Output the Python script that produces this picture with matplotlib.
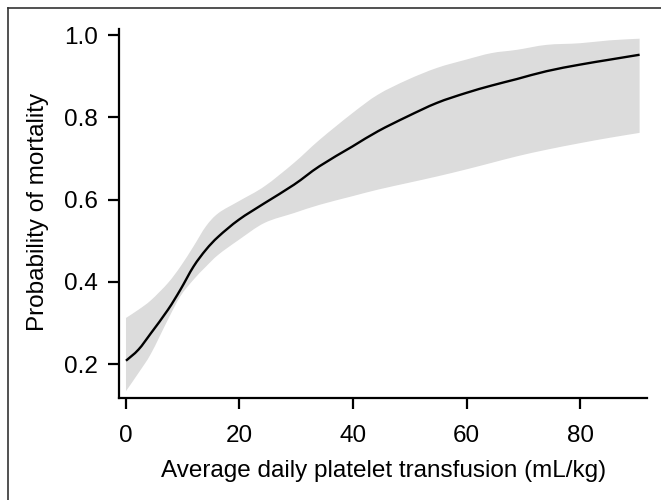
import matplotlib
matplotlib.use("Agg")
import matplotlib.pyplot as plt
from matplotlib.lines import Line2D
from matplotlib.path import Path
from matplotlib.patches import PathPatch

plt.rcParams['font.family'] = ['Liberation Sans', 'DejaVu Sans']

# Data
dose = [0, 2.2, 4.4, 7.4, 9.6, 11.9, 14.1, 16.3, 19.9, 24.4, 29.6, 34.1, 39.9,
        44.4, 49.6, 54.8, 59.9, 64.4, 68.9, 74.1, 80.0, 85.2, 90.5]
prob = [0.208, 0.235, 0.275, 0.332, 0.381, 0.437, 0.478, 0.510, 0.551, 0.591,
        0.636, 0.681, 0.729, 0.766, 0.802, 0.835, 0.859, 0.877, 0.893, 0.912,
        0.928, 0.940, 0.952]
upper = [0.312, 0.332, 0.355, 0.397, 0.437, 0.486, 0.535, 0.567, 0.596, 0.632,
         0.689, 0.745, 0.810, 0.855, 0.891, 0.920, 0.940, 0.956, 0.964, 0.976,
         0.980, 0.987, 0.991]
lower = [0.134, 0.178, 0.225, 0.308, 0.365, 0.405, 0.437, 0.466, 0.502, 0.543,
         0.567, 0.587, 0.608, 0.624, 0.640, 0.656, 0.673, 0.689, 0.705, 0.721,
         0.737, 0.750, 0.762]
xticks = [0, 20, 40, 60, 80]
yticks = [0.2, 0.4, 0.6, 0.8, 1.0]


def smooth_path(xs, ys, start=True):
    """Catmull-Rom curve through the points, as cubic Bezier path pieces."""
    pts = list(zip(xs, ys))
    n = len(pts)
    verts, codes = [pts[0]], [Path.MOVETO if start else Path.LINETO]
    for i in range(n - 1):
        p0 = pts[i - 1] if i > 0 else pts[i]
        p1, p2 = pts[i], pts[i + 1]
        p3 = pts[i + 2] if i + 2 < n else pts[i + 1]
        c1 = (p1[0] + (p2[0] - p0[0]) / 6, p1[1] + (p2[1] - p0[1]) / 6)
        c2 = (p2[0] - (p3[0] - p1[0]) / 6, p2[1] - (p3[1] - p1[1]) / 6)
        verts += [c1, c2, p2]
        codes += [Path.CURVE4] * 3
    return verts, codes


fig = plt.figure(figsize=(6.61, 5.00), dpi=100)
W, H = 661, 500
ax = fig.add_axes([119 / W, (H - 398.3) / H, (646.7 - 119) / W, (398.3 - 29) / H])

# confidence band
uv, uc = smooth_path(dose, upper)
lv, lc = smooth_path(dose[::-1], lower[::-1], start=False)
band = Path(uv + lv + [uv[0]], uc + lc + [Path.CLOSEPOLY])
ax.add_patch(PathPatch(band, facecolor='#dcdcdc', edgecolor='none', transform=ax.transData))

# mean curve
mv, mc = smooth_path(dose, prob)
ax.add_patch(PathPatch(Path(mv, mc), facecolor='none', edgecolor='black',
                       linewidth=1.7, transform=ax.transData))

ax.set_xlim(-1.23, 91.75)
ax.set_ylim(0.1166, 1.0146)
ax.set_xticks(xticks)
ax.set_xticklabels([str(t) for t in xticks])
ax.set_yticks(yticks)
ax.set_yticklabels([f"{t:.1f}" for t in yticks])

for s in ['top', 'right']:
    ax.spines[s].set_visible(False)
for s in ['left', 'bottom']:
    ax.spines[s].set_linewidth(1.6)
ax.tick_params(axis='both', length=8, width=1.6, labelsize=17.5, color='black')
ax.tick_params(axis='x', pad=11)
ax.tick_params(axis='y', pad=7)

fig.text(384 / W, 1 - 471 / H, 'Average daily platelet transfusion (mL/kg)',
         ha='center', va='center', fontsize=17.5)
fig.text(38 / W, 1 - 212 / H, 'Probability of mortality', rotation=90,
         ha='center', va='center', fontsize=17.5)

# frame lines (top and left) of the figure
fig.add_artist(Line2D([8 / W, 1], [1 - 8 / H, 1 - 8 / H], transform=fig.transFigure,
                      color='#333333', linewidth=1.2))
fig.add_artist(Line2D([8 / W, 8 / W], [1 - 8 / H, 0], transform=fig.transFigure,
                      color='#333333', linewidth=1.2))

fig.savefig('out.png', dpi=100)
